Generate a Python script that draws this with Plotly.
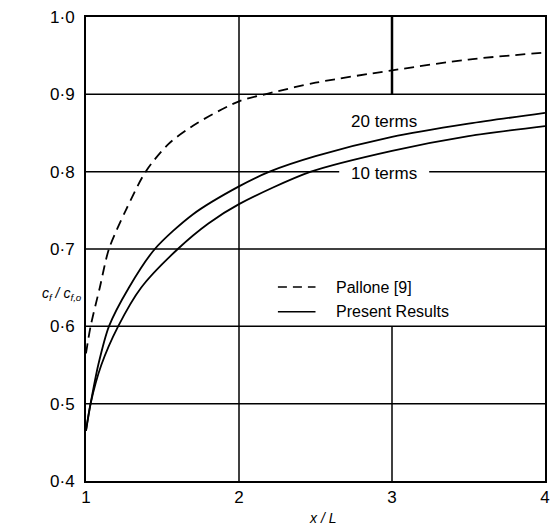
import plotly.graph_objects as go

# ---- data ----
pallone_x = [1.0, 1.03, 1.09, 1.15, 1.26, 1.39, 1.54, 1.72, 2.0, 2.19, 2.5, 3.0, 3.5, 4.0]
pallone_y = [0.565, 0.60, 0.65, 0.70, 0.75, 0.80, 0.836, 0.862, 0.891, 0.901, 0.915, 0.931, 0.945, 0.954]

terms20_x = [1.0, 1.03, 1.08, 1.15, 1.28, 1.45, 1.7, 2.0, 2.2, 2.5, 3.0, 3.5, 4.0]
terms20_y = [0.465, 0.50, 0.55, 0.60, 0.65, 0.70, 0.745, 0.781, 0.80, 0.82, 0.845, 0.862, 0.876]

terms10_x = [1.0, 1.03, 1.10, 1.21, 1.36, 1.60, 1.8, 2.0, 2.47, 3.0, 3.5, 4.0]
terms10_y = [0.465, 0.50, 0.55, 0.60, 0.65, 0.70, 0.733, 0.758, 0.80, 0.827, 0.846, 0.859]

x_ticks = [1, 2, 3, 4]
x_tick_labels = ["1", "2", "3", "4"]
y_ticks = [0.4, 0.5, 0.6, 0.7, 0.8, 0.9, 1.0]
y_tick_labels = ["0·4", "0·5", "0·6", "0·7", "0·8", "0·9", "1·0"]

# grid segments (x0, x1, y0, y1) in data units
h_grid = [(1, 4, 0.5, 0.5), (1, 4, 0.6, 0.6), (1, 4, 0.7, 0.7),
          (1, 2.655, 0.8, 0.8), (3.243, 4, 0.8, 0.8), (1, 4, 0.9, 0.9)]
v_grid = [(2, 2, 0.4, 1.0), (3, 3, 0.9, 1.0), (3, 3, 0.4, 0.6)]

FONT = "Liberation Sans, Arial, sans-serif"

fig = go.Figure()
fig.add_trace(go.Scatter(x=pallone_x, y=pallone_y, mode="lines",
                         line=dict(color="black", width=1.8, dash="10px,6px", shape="spline", smoothing=0.8),
                         name="Pallone [9]", showlegend=False, hoverinfo="skip"))
fig.add_trace(go.Scatter(x=terms20_x, y=terms20_y, mode="lines",
                         line=dict(color="black", width=1.8, shape="spline", smoothing=0.8),
                         name="20 terms", showlegend=False, hoverinfo="skip"))
fig.add_trace(go.Scatter(x=terms10_x, y=terms10_y, mode="lines",
                         line=dict(color="black", width=1.8, shape="spline", smoothing=0.8),
                         name="10 terms", showlegend=False, hoverinfo="skip"))

shapes = []
for (x0, x1, y0, y1) in h_grid + v_grid:
    shapes.append(dict(type="line", xref="x", yref="y", x0=x0, x1=x1, y0=y0, y1=y1,
                       line=dict(color="black", width=1.5), layer="below"))
# thicker segment at x=3 top
shapes.append(dict(type="line", xref="x", yref="y", x0=3, x1=3, y0=0.9, y1=1.0,
                   line=dict(color="black", width=2.5), layer="below"))

# manual legend samples (paper coordinates)
PW, PH = 464, 469
def px(xp): return (xp - 86) / PW
def py(yp): return (481 - yp) / PH
shapes.append(dict(type="line", xref="paper", yref="paper", x0=px(280), x1=px(318), y0=py(285), y1=py(285),
                   line=dict(color="black", width=1.5, dash="9px,6px")))
shapes.append(dict(type="line", xref="paper", yref="paper", x0=px(280), x1=px(318), y0=py(310), y1=py(310),
                   line=dict(color="black", width=1.5)))

annotations = [
    dict(x=px(337), y=py(285), xref="paper", yref="paper", text="Pallone [9]", showarrow=False,
         xanchor="left", yanchor="middle", font=dict(family=FONT, size=16, color="black")),
    dict(x=px(337), y=py(310), xref="paper", yref="paper", text="Present Results", showarrow=False,
         xanchor="left", yanchor="middle", font=dict(family=FONT, size=16, color="black")),
    dict(x=2.95, y=0.865, xref="x", yref="y", text="20 terms", showarrow=False,
         xanchor="center", yanchor="middle", font=dict(family=FONT, size=17, color="black")),
    dict(x=2.95, y=0.797, xref="x", yref="y", text="10 terms", showarrow=False,
         xanchor="center", yanchor="middle", font=dict(family=FONT, size=17, color="black")),
    dict(x=px(84), y=py(292), xref="paper", yref="paper",
         text="<i>c<sub>f</sub> / c<sub>f,o</sub></i>", showarrow=False,
         xanchor="right", yanchor="middle", font=dict(family=FONT, size=14, color="black")),
    dict(x=px(325), y=py(518), xref="paper", yref="paper", text="<i>x / L</i>", showarrow=False,
         xanchor="center", yanchor="middle", font=dict(family=FONT, size=14, color="black")),
]

fig.update_layout(
    width=558, height=530,
    margin=dict(l=86, r=8, t=12, b=49),
    paper_bgcolor="white", plot_bgcolor="white",
    shapes=shapes, annotations=annotations,
    showlegend=False,
    hovermode=False,
    xaxis=dict(range=[1, 4], tickvals=x_ticks, ticktext=x_tick_labels, showgrid=False, zeroline=False,
               showline=True, linecolor="black", linewidth=2, mirror=True, ticks="",
               tickfont=dict(family=FONT, size=17, color="black")),
    yaxis=dict(range=[0.4, 1.0], tickvals=y_ticks, ticktext=y_tick_labels, showgrid=False, zeroline=False,
               showline=True, linecolor="black", linewidth=2, mirror=True, ticks="",
               ticklabelstandoff=6,
               tickfont=dict(family=FONT, size=17, color="black")),
)

fig.write_html("out.html",
               config={"displayModeBar": False},
               post_script="document.body.style.margin='0';document.body.style.overflow='hidden';")
